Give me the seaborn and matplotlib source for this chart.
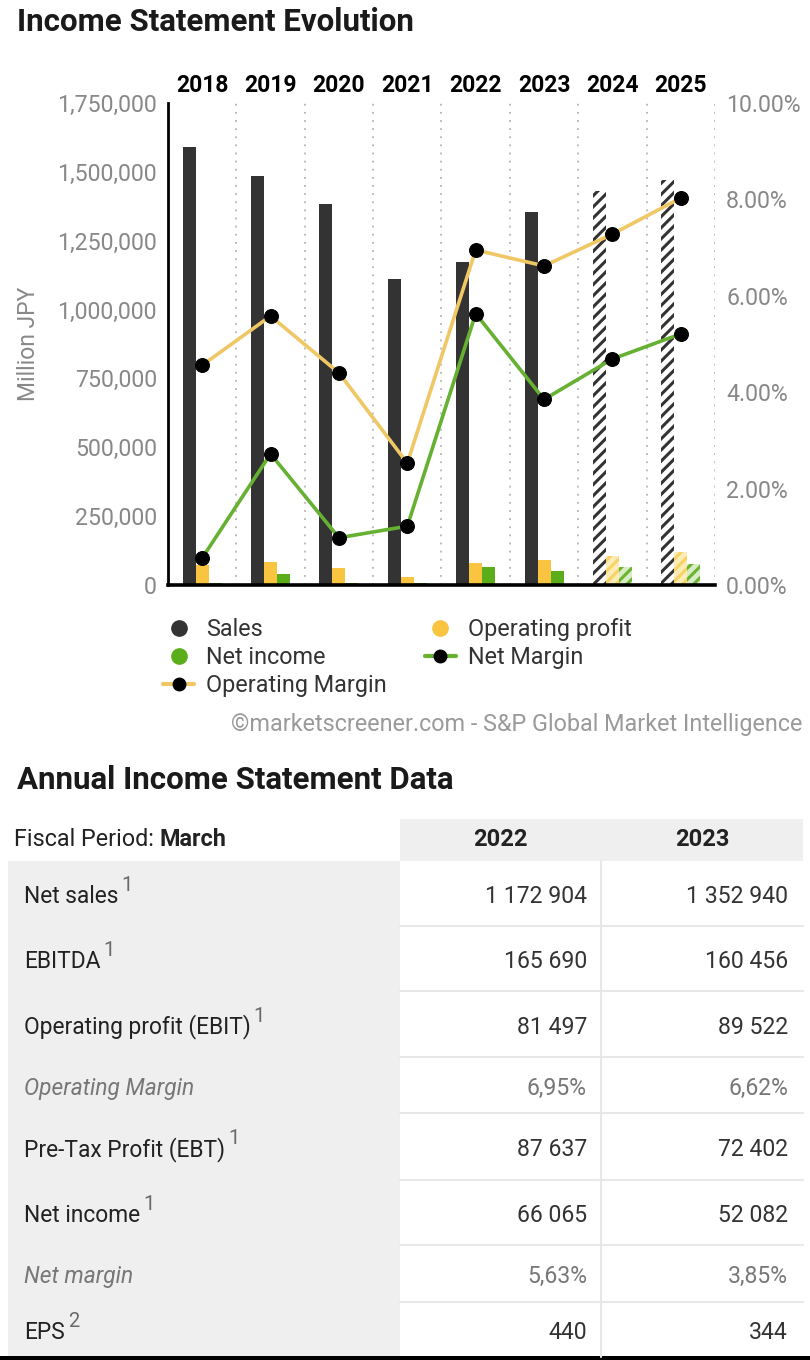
import numpy as np
import pandas as pd
import matplotlib
matplotlib.use("Agg")
import matplotlib.pyplot as plt
import matplotlib.ticker as mticker
from matplotlib.lines import Line2D
from matplotlib.patches import Rectangle
import seaborn as sns

# --- data ---
years = ["2018", "2019", "2020", "2021", "2022", "2023", "2024", "2025"]
sales = [1590000, 1485000, 1383000, 1111000, 1172904, 1352940, 1430000, 1470000]
op_profit = [72500, 82900, 60900, 28100, 81497, 89522, 104000, 118000]
net_income = [6000, 40400, 6000, 6000, 66065, 52082, 67000, 76600]
op_margin = [4.56, 5.58, 4.40, 2.53, 6.95, 6.62, 7.28, 8.03]
net_margin = [0.56, 2.72, 0.98, 1.22, 5.63, 3.85, 4.69, 5.21]
n_forecast = 2  # last years are estimates (hatched)

# --- table ---
table_years = ["2022", "2023"]
row_labels = ["Net sales", "EBITDA", "Operating profit (EBIT)", "Operating Margin",
              "Pre-Tax Profit (EBT)", "Net income", "Net margin", "EPS"]
row_notes = ["1", "1", "1", "", "1", "1", "", "2"]
vals_2022 = ["1 172 904", "165 690", "81 497", "6,95%", "87 637", "66 065", "5,63%", "440"]
vals_2023 = ["1 352 940", "160 456", "89 522", "6,62%", "72 402", "52 082", "3,85%", "344"]
row_heights = [65, 65, 66, 56, 67, 65, 57, 55]

C_SALES = "#333333"
C_OP = "#f9c440"
C_NET = "#5cad1a"
C_OPM = "#f0c765"
C_NETM = "#66b032"
GREY = "#888888"

sns.set_style("white")
plt.rcParams["font.family"] = ["Roboto", "DejaVu Sans"]
plt.rcParams["hatch.linewidth"] = 2.2

fig = plt.figure(figsize=(8.1, 13.6), dpi=100)

# pixel-coordinate canvas for titles and the table
tax = fig.add_axes([0, 0, 1, 1], zorder=-1)
tax.set_xlim(0, 810)
tax.set_ylim(1360, 0)
tax.axis("off")

ax = fig.add_axes([168 / 810, 775 / 1360, 547 / 810, 482 / 1360])

df = pd.DataFrame({
    "year": years * 3,
    "series": ["Sales"] * len(years) + ["Operating profit"] * len(years) + ["Net income"] * len(years),
    "value": sales + op_profit + net_income,
})
sns.barplot(data=df, x="year", y="value", hue="series",
            hue_order=["Sales", "Operating profit", "Net income"],
            palette=[C_SALES, C_OP, C_NET], saturation=1, width=0.57, gap=0,
            errorbar=None, legend=False, linewidth=0, ax=ax)

# hatch the forecast years
hatch_styles = [("white", C_SALES), ("#fcecb8", "#f8d262"), ("#d9ecc6", "#6ab42e")]
for cont, (face, stripe) in zip(ax.containers, hatch_styles):
    for bar in list(cont)[-n_forecast:]:
        bar.set_facecolor(face)
        bar.set_edgecolor(stripe)
        bar.set_linewidth(0)
        bar.set_hatch("///")

for i in range(len(years)):
    ax.axvline(i + 0.5, color="#b5b5b5", ls=(0, (1, 3.5)), lw=1.3, zorder=0)

ax.set_xlim(-0.5, len(years) - 0.5)
ax.set_ylim(0, 1750000)
ax.set_yticks(np.arange(0, 1750001, 250000))
ax.yaxis.set_major_formatter(mticker.StrMethodFormatter("{x:,.0f}"))
ax.tick_params(axis="y", length=0, pad=8, labelsize=16.7, labelcolor=GREY)
ax.xaxis.tick_top()
ax.tick_params(axis="x", length=0, pad=4.5, labelsize=16.5, labelcolor="black")
for lab in ax.get_xticklabels():
    lab.set_fontweight("bold")
ax.set_xlabel("")
ax.set_ylabel("Million JPY", fontsize=16.5, color=GREY, labelpad=12)
for s in ["top", "right"]:
    ax.spines[s].set_visible(False)
ax.spines["left"].set_color("black")
ax.spines["left"].set_linewidth(2)
ax.spines["bottom"].set_color("black")
ax.spines["bottom"].set_linewidth(2.6)

ax2 = ax.twinx()
pos = np.arange(len(years))
sns.lineplot(x=pos, y=op_margin, color=C_OPM, lw=2.6, marker="o", markersize=10,
             markerfacecolor="black", markeredgecolor="black", ax=ax2)
sns.lineplot(x=pos, y=net_margin, color=C_NETM, lw=2.6, marker="o", markersize=10,
             markerfacecolor="black", markeredgecolor="black", ax=ax2)
ax2.set_ylim(0, 10)
ax2.set_yticks(np.arange(0, 10.01, 2))
ax2.yaxis.set_major_formatter(mticker.StrMethodFormatter("{x:.2f}%"))
ax2.tick_params(axis="y", length=0, pad=8, labelsize=16.7, labelcolor=GREY)
for s in ax2.spines.values():
    s.set_visible(False)
ax.set_xlim(-0.5, len(years) - 0.5)

# legend
handles = [
    Line2D([], [], ls="none", marker="o", ms=11, color=C_SALES, label="Sales"),
    Line2D([], [], ls="none", marker="o", ms=11, color=C_NET, label="Net income"),
    Line2D([], [], color=C_OPM, lw=3, marker="o", ms=9, mfc="black", mec="black", label="Operating Margin"),
    Line2D([], [], ls="none", marker="o", ms=11, color=C_OP, label="Operating profit"),
    Line2D([], [], color=C_NETM, lw=3, marker="o", ms=9, mfc="black", mec="black", label="Net Margin"),
]
fig.legend(handles=handles, ncol=2, loc="upper left", bbox_to_anchor=(163 / 810, 1 - 618 / 1360),
           frameon=False, fontsize=16.8, handlelength=1.33, handletextpad=0.5,
           columnspacing=1.65, labelspacing=0.22, borderpad=0, borderaxespad=0,
           labelcolor="#333333")

# titles
tax.text(17, 22, "Income Statement Evolution", fontsize=22.5, fontweight="bold",
         va="center", ha="left", color="#1a1a1a")
tax.text(802, 725, "©marketscreener.com - S&P Global Market Intelligence", fontsize=16.8,
         color="#9a9a9a", ha="right", va="center")
tax.text(17, 780, "Annual Income Statement Data", fontsize=22.5, fontweight="bold",
         va="center", ha="left", color="#1a1a1a")

# table
renderer = fig.canvas.get_renderer()
head_top, head_bot = 819, 861
x_left, x_mid, x_c1, x_right = 8, 400, 601, 803
bounds = [head_bot] + list(head_bot + np.cumsum(row_heights))
tax.add_patch(Rectangle((x_mid, head_top), x_right - x_mid, head_bot - head_top,
                        color="#efefef", lw=0))
tax.add_patch(Rectangle((x_left, head_bot), x_mid - x_left, bounds[-1] - head_bot,
                        color="#efefef", lw=0))
for b in bounds[1:-1]:
    tax.plot([x_mid, x_right], [b, b], color="#e8e8e8", lw=1.5)
tax.plot([x_c1, x_c1], [head_bot, bounds[-1]], color="#e8e8e8", lw=1.5)
tax.add_patch(Rectangle((0, 1356), 810, 4, color="black", lw=0))

t = tax.text(14, 840, "Fiscal Period: ", fontsize=16.8, color="#222222", va="center", ha="left")
w = t.get_window_extent(renderer).width
tax.text(14 + w, 840, "March", fontsize=16.8, fontweight="bold", color="#222222",
         va="center", ha="left")
for xc, yr in zip([(x_mid + x_c1) / 2, (x_c1 + x_right) / 2], table_years):
    tax.text(xc, 840, yr, fontsize=17, fontweight="bold", color="#222222", ha="center", va="center")

for i, lab in enumerate(row_labels):
    yc = (bounds[i] + bounds[i + 1]) / 2 + 3
    ratio = lab in ("Operating Margin", "Net margin")
    col = "#777777" if ratio else "#222222"
    t = tax.text(24, yc, lab, fontsize=16.4, color=col, style="italic" if ratio else "normal",
                 ha="left", va="center")
    if row_notes[i]:
        w = t.get_window_extent(renderer).width
        tax.text(24 + w + 3, yc - 11, row_notes[i], fontsize=14.5, color="#6a6a6a",
                 ha="left", va="center")
    vcol = "#777777" if ratio else "#333333"
    tax.text(587, yc, vals_2022[i], fontsize=16.6, color=vcol, ha="right", va="center")
    tax.text(788, yc, vals_2023[i], fontsize=16.6, color=vcol, ha="right", va="center")

fig.savefig("out.png", dpi=100)
